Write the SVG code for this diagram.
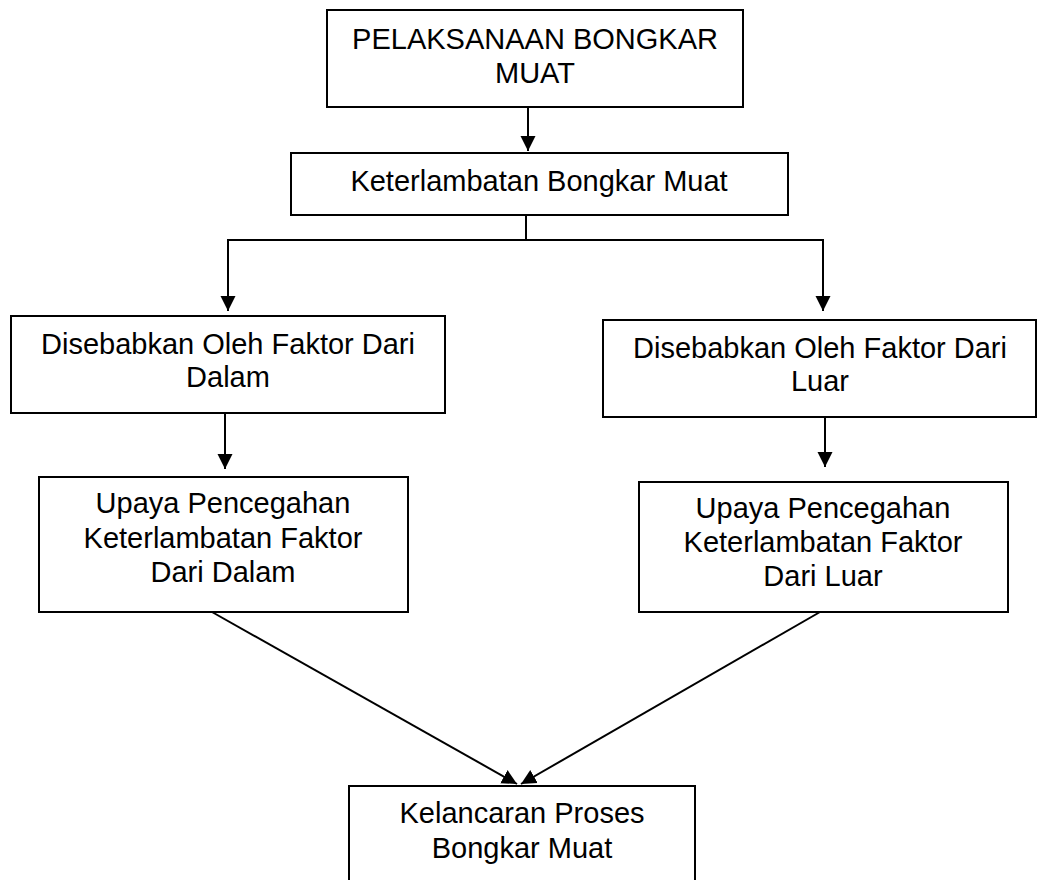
<svg xmlns="http://www.w3.org/2000/svg" width="1037" height="880" viewBox="0 0 1037 880">
<defs>
<style>
.box{fill:#fff;stroke:#000;stroke-width:2}
.t{font-family:"Liberation Sans",Arial,sans-serif;font-size:29px;fill:#000;text-anchor:middle}
.c{fill:none;stroke:#000;stroke-width:2}
</style>
<marker id="ah" markerUnits="userSpaceOnUse" markerWidth="16" markerHeight="16" viewBox="0 0 16 16" refX="15" refY="8" orient="auto">
<path d="M0,0.5 L15,8 L0,15.5 Z" fill="#000"/>
</marker>
</defs>
<rect width="1037" height="880" fill="#fff"/>
<g id="connectors">
<line class="c" x1="528" y1="107" x2="528" y2="151" marker-end="url(#ah)"/>
<polyline class="c" points="526,215 526,240"/>
<polyline class="c" points="228,311 228,240 823,240 823,311" marker-end="url(#ah)"/>
<line class="c" x1="228" y1="305" x2="228" y2="311" marker-end="url(#ah)"/>
<line class="c" x1="225" y1="413" x2="225" y2="469" marker-end="url(#ah)"/>
<line class="c" x1="825" y1="417" x2="825" y2="467" marker-end="url(#ah)"/>
<line class="c" x1="212" y1="612" x2="517" y2="784" marker-end="url(#ah)"/>
<line class="c" x1="820" y1="612" x2="521" y2="784" marker-end="url(#ah)"/>
</g>
<g id="n1">
<rect class="box" x="327" y="10" width="416" height="97"/>
<text class="t" x="535" y="49">PELAKSANAAN BONGKAR</text>
<text class="t" x="535" y="83">MUAT</text>
</g>
<g id="n2">
<rect class="box" x="291" y="153" width="497" height="62"/>
<text class="t" x="539" y="191">Keterlambatan Bongkar Muat</text>
</g>
<g id="n3">
<rect class="box" x="11" y="316" width="434" height="97"/>
<text class="t" x="228" y="354">Disebabkan Oleh Faktor Dari</text>
<text class="t" x="228" y="387">Dalam</text>
</g>
<g id="n4">
<rect class="box" x="603" y="320" width="433" height="97"/>
<text class="t" x="820" y="358">Disebabkan Oleh Faktor Dari</text>
<text class="t" x="820" y="391">Luar</text>
</g>
<g id="n5">
<rect class="box" x="39" y="477" width="369" height="135"/>
<text class="t" x="223" y="513">Upaya Pencegahan</text>
<text class="t" x="223" y="548">Keterlambatan Faktor</text>
<text class="t" x="223" y="582">Dari Dalam</text>
</g>
<g id="n6">
<rect class="box" x="639" y="482" width="369" height="130"/>
<text class="t" x="823" y="518">Upaya Pencegahan</text>
<text class="t" x="823" y="552">Keterlambatan Faktor</text>
<text class="t" x="823" y="586">Dari Luar</text>
</g>
<g id="n7">
<rect class="box" x="349" y="786" width="346" height="110"/>
<text class="t" x="522" y="823">Kelancaran Proses</text>
<text class="t" x="522" y="858">Bongkar Muat</text>
</g>
</svg>
